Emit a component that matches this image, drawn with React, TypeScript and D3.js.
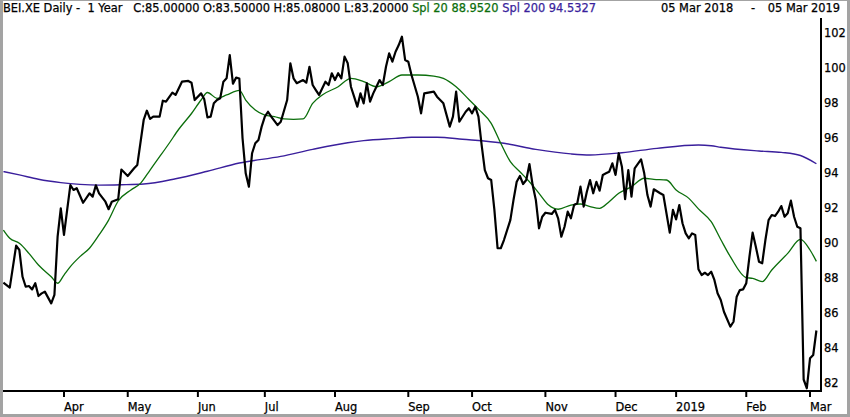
import React from 'react';
import * as d3 from 'd3';

// Euronext sessions, 05 Mar 2018 - 05 Mar 2019
const firstDay = '2018-03-05';
const lastDay = '2019-03-05';
const holidays = ['2018-03-30', '2018-04-02', '2018-05-01', '2018-12-25', '2018-12-26', '2019-01-01'];

// [session number, close]
const closePoints: [number, number][] = [
  [0, 87.73], [2, 87.45], [4, 89.85], [5, 89.6], [6, 88.07], [7, 87.5], [8, 87.54], [9, 87.35], [10, 87.7],
  [11, 86.97], [12, 87.12], [13, 87.22], [15, 86.55], [16, 87.03], [17, 90.36], [18, 91.98], [19, 90.46],
  [20, 91.89], [21, 93.31], [22, 93.03], [23, 93.13], [25, 92.3], [27, 92.84], [28, 92.65], [29, 93.3],
  [30, 92.84], [32, 92.36], [33, 91.93], [34, 92.36], [36, 92.5], [37, 94.2], [39, 93.83], [41, 94.27],
  [42, 94.46], [44, 97.03], [45, 97.56], [46, 97.09], [47, 97.22], [49, 97.22], [50, 98.13], [51, 98.08],
  [53, 98.59], [54, 98.46], [56, 99.22], [58, 99.26], [59, 99.16], [60, 98.17], [62, 98.55], [63, 98.21],
  [64, 97.18], [65, 97.22], [66, 97.98], [67, 98.17], [68, 98.27], [69, 99.22], [70, 99.41], [71, 100.74],
  [72, 99.1], [73, 99.45], [74, 99.4], [75, 96.0], [76, 93.98], [77, 93.22], [78, 95.13], [79, 95.7],
  [80, 95.89], [81, 96.65], [82, 97.22], [83, 97.5], [84, 97.22], [86, 96.74], [87, 96.93], [89, 98.17],
  [90, 100.27], [91, 99.41], [92, 99.13], [94, 99.31], [95, 99.16], [96, 100.07], [97, 99.03], [98, 98.74],
  [99, 98.46], [101, 99.22], [102, 99.03], [103, 99.7], [104, 99.31], [105, 99.7], [106, 99.41],
  [107, 100.65], [108, 100.27], [109, 98.93], [110, 98.36], [111, 97.79], [112, 98.55], [113, 97.98],
  [114, 99.13], [115, 98.08], [116, 98.55], [117, 98.93], [118, 99.31], [119, 99.03], [120, 100.07],
  [121, 100.84], [122, 100.36], [123, 100.93], [124, 101.31], [125, 101.79], [126, 100.46], [127, 100.36],
  [128, 99.6], [130, 98.36], [131, 97.41], [132, 98.55], [135, 98.65], [136, 98.36], [138, 97.98],
  [140, 96.65], [141, 97.22], [142, 98.65], [143, 96.93], [145, 97.5], [146, 97.7], [147, 97.41],
  [148, 97.79], [149, 97.22], [150, 95.6], [151, 94.17], [152, 93.7], [153, 93.6], [154, 91.89],
  [155, 89.7], [156, 89.7], [157, 90.17], [159, 91.31], [160, 92.46], [161, 93.5], [162, 93.83],
  [163, 93.37], [164, 93.6], [165, 94.51], [166, 93.31], [167, 92.46], [168, 90.84], [169, 91.5],
  [170, 91.73], [172, 91.66], [173, 91.89], [174, 91.41], [175, 90.36], [176, 90.93], [177, 91.79],
  [178, 91.41], [179, 92.17], [180, 92.27], [181, 93.22], [182, 92.08], [183, 92.93], [184, 93.6],
  [185, 92.84], [186, 93.5], [187, 92.99], [188, 93.89], [189, 93.98], [190, 94.07], [191, 94.55],
  [192, 93.89], [193, 95.13], [194, 94.36], [195, 92.5], [196, 94.17], [197, 92.65], [198, 94.27],
  [200, 94.78], [201, 93.98], [202, 92.74], [203, 92.08], [204, 93.07], [206, 92.84], [207, 92.74],
  [209, 90.59], [210, 91.89], [211, 91.35], [212, 92.17], [213, 91.13], [214, 90.55], [215, 90.27],
  [216, 90.55], [217, 90.46], [218, 88.5], [219, 88.17], [220, 88.3], [221, 88.17], [222, 88.36],
  [223, 87.89], [224, 87.13], [225, 86.74], [226, 86.07], [228, 85.22], [229, 85.5], [230, 86.93],
  [231, 87.31], [232, 87.35], [233, 87.7], [234, 89.22], [235, 90.59], [236, 89.79], [237, 88.93],
  [238, 88.84], [239, 90.17], [240, 91.31], [241, 91.6], [242, 91.54], [243, 91.79], [244, 92.11],
  [245, 91.5], [246, 91.7], [247, 92.42], [248, 91.5], [249, 90.93], [250, 90.84], [251, 82.2],
  [252, 81.7], [253, 83.41], [254, 83.6], [255, 85.0],
];

// Spl 20 (green)
const spl20Points: [number, number][] = [
  [0, 90.74], [2, 90.27], [5, 89.98], [8, 89.41], [11, 88.74], [15, 88.07], [17, 87.7], [19, 88.17],
  [21, 88.65], [24, 89.22], [27, 89.7], [30, 90.46], [33, 91.31], [36, 92.4], [40, 93.03], [43, 93.41],
  [46, 94.17], [49, 94.93], [52, 95.7], [55, 96.5], [59, 97.4], [62, 98.17], [64, 98.6], [67, 98.27],
  [70, 98.46], [74, 98.72], [76, 98.17], [79, 97.6], [82, 97.31], [85, 97.22], [88, 97.09], [91, 97.07],
  [94, 97.09], [97, 97.98], [100, 98.46], [105, 98.93], [109, 99.41], [113, 99.22], [117, 98.93],
  [121, 99.22], [125, 99.6], [130, 99.6], [135, 99.54], [138, 99.41], [142, 98.93], [146, 98.2],
  [149, 97.65], [153, 96.84], [156, 95.7], [159, 94.65], [162, 94.07], [165, 93.5], [168, 92.84],
  [171, 92.17], [174, 91.93], [178, 92.17], [181, 92.23], [184, 92.08], [187, 91.98], [190, 92.36],
  [193, 92.84], [197, 93.22], [201, 93.7], [204, 93.64], [208, 93.6], [211, 93.03], [215, 92.55],
  [218, 91.95], [222, 91.22], [225, 90.2], [228, 89.22], [233, 88.02], [235, 87.98], [238, 87.79],
  [241, 88.46], [246, 89.41], [250, 90.21], [253, 89.6], [255, 88.95],
];

// Spl 200 (purple)
const spl200Points: [number, number][] = [
  [0, 94.08], [5, 93.89], [11, 93.64], [18, 93.45], [24, 93.35], [30, 93.31], [37, 93.33], [44, 93.37],
  [54, 93.67], [64, 94.1], [74, 94.57], [87, 94.95], [97, 95.35], [108, 95.73], [113, 95.85],
  [123, 95.98], [128, 96.04], [136, 96.04], [144, 95.93], [157, 95.7], [167, 95.35], [178, 95.09],
  [184, 95.03], [194, 95.16], [205, 95.41], [218, 95.6], [222, 95.56], [225, 95.47], [237, 95.26],
  [244, 95.18], [250, 95.0], [255, 94.53],
];

const yTicks = [82, 84, 86, 88, 90, 92, 94, 96, 98, 100, 102];

const headerText = 'BEI.XE Daily -  1 Year   C:85.00000 O:83.50000 H:85.08000 L:83.20000 ';
const spl20Label = 'Spl 20 88.9520 ';
const spl200Label = 'Spl 200 94.5327';
const rangeStart = '05 Mar 2018';
const rangeEnd = '05 Mar 2019';

const W = 850;
const H = 417;
const FONT = '"DejaVu Sans", Verdana, sans-serif';
const GREEN = '#0b6e0b';
const PURPLE = '#3a1f9c';

export default function App() {
  const fmt = d3.timeFormat('%Y-%m-%d');
  const parse = d3.timeParse('%Y-%m-%d');
  const sessions = d3.timeDay
    .range(parse(firstDay)!, d3.timeDay.offset(parse(lastDay)!, 1))
    .filter(d => d.getDay() !== 0 && d.getDay() !== 6 && !holidays.includes(fmt(d)));

  const x = d3.scaleLinear().domain([0, sessions.length - 1]).range([3.4, 816.4]);
  const y = d3.scaleLinear().domain([82, 102]).range([383, 33]);

  const monthTicks = sessions
    .map((d, i) => ({ d, i }))
    .filter(({ d, i }) => i > 0 && d.getMonth() !== sessions[i - 1].getMonth())
    .map(({ d, i }) => ({ i, label: d.getMonth() === 0 ? d3.timeFormat('%Y')(d) : d3.timeFormat('%b')(d) }));

  const line = d3.line<[number, number]>().x(d => x(d[0])).y(d => y(d[1]));
  const smooth = d3.line<[number, number]>().x(d => x(d[0])).y(d => y(d[1])).curve(d3.curveMonotoneX);

  const axisX = 821;
  const axisY = 391;
  const txt = { stroke: '#000', strokeWidth: 0.25 };

  return (
    <svg width={W} height={H} style={{ position: 'absolute', left: 0, top: 0, background: '#fff' }}
      fontFamily={FONT}>
      <rect x={0} y={0} width={W} height={H} fill="#fff" />

      <text x={3} y={12} fontSize={11.4} fill="#000" {...txt} style={{ whiteSpace: 'pre' }}>
        <tspan>{headerText}</tspan>
        <tspan fill={GREEN} stroke={GREEN}>{spl20Label}</tspan>
        <tspan fill={PURPLE} stroke={PURPLE}>{spl200Label}</tspan>
      </text>
      <text x={661} y={12} fontSize={11.4} fill="#000" {...txt}>{rangeStart}</text>
      <text x={751} y={12} fontSize={11.4} fill="#000" {...txt}>-</text>
      <text x={840} y={12} fontSize={11.4} textAnchor="end" fill="#000" {...txt}>{rangeEnd}</text>

      <path d={smooth(spl200Points)!} fill="none" stroke={PURPLE} strokeWidth={1.4} />
      <path d={smooth(spl20Points)!} fill="none" stroke={GREEN} strokeWidth={1.3} />
      <path d={line(closePoints)!} fill="none" stroke="#000" strokeWidth={2.2} strokeLinejoin="round" />

      {/* axes */}
      <line x1={axisX} x2={axisX} y1={18} y2={axisY + 1} stroke="#000" strokeWidth={2} />
      <line x1={3} x2={axisX + 1} y1={axisY} y2={axisY} stroke="#000" strokeWidth={2} />
      {yTicks.map(v => (
        <text key={v} x={824} y={y(v)} dy="0.36em" fontSize={11.4} fill="#000" {...txt}>{v}</text>
      ))}
      {monthTicks.map(t => (
        <g key={t.i} transform={`translate(${x(t.i)},${axisY})`}>
          <line x1={0} x2={0} y1={0} y2={6} stroke="#000" strokeWidth={2} />
          <text x={0} y={20} fontSize={11.4} fill="#000" {...txt}>{t.label}</text>
        </g>
      ))}

      {/* window frame */}
      <rect x={0} y={0} width={3} height={H} fill="#a3a3a3" />
      <rect x={0} y={414} width={W} height={3} fill="#a3a3a3" />
      <rect x={847} y={0} width={3} height={H} fill="#a3a3a3" />
      <rect x={0} y={0} width={W} height={1} fill="#a3a3a3" />
    </svg>
  );
}
